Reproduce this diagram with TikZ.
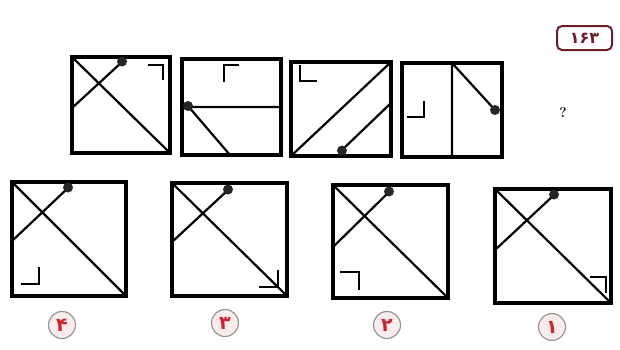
\documentclass[tikz,border=0pt]{standalone}
\usepackage{fontspec}
\newfontfamily\arabicfont[Script=Arabic]{DejaVu Sans}
\definecolor{optred}{RGB}{205,35,45}
\definecolor{tagred}{RGB}{105,30,40}
\definecolor{ringgray}{RGB}{150,150,150}
\definecolor{ringfill}{RGB}{250,236,236}
\tikzset{
  frame/.style={line width=3.3pt},
  seg/.style={line width=2.2pt},
  cornermark/.style={line width=2.2pt},
  ball/.style={fill=black!85},
  optlabel/.style={circle,draw=ringgray,line width=1.2pt,fill=ringfill,minimum size=27pt,inner sep=0pt,text=optred,font=\arabicfont\bfseries\fontsize{19}{19}\selectfont},
}
\begin{document}
\begin{tikzpicture}[x=1pt,y=-1pt]
		\useasboundingbox (0,0) rectangle (620,349);
		% question row
		\draw[frame] (72,57) rectangle (170,153);
		\draw[seg] (72,57)--(169,152) (122,62)--(72,108);
		\draw[cornermark] (148,65)--(163,65)--(163,80);
		\fill[ball] (122,61.5) circle(5);
		\draw[frame] (182,59) rectangle (281,155);
		\draw[seg] (182,107)--(281,107) (188,106)--(230,155);
		\draw[cornermark] (224,82)--(224,65)--(239,65);
		\fill[ball] (188,106) circle(5);
		\draw[frame] (291,62) rectangle (391,156);
		\draw[seg] (291,156)--(391,62) (342,150)--(391,103);
		\draw[cornermark] (300,65)--(300,81)--(317,81);
		\fill[ball] (342,150.5) circle(5);
		\draw[frame] (402,63) rectangle (502,157);
		\draw[seg] (452,63)--(452,157) (452,63)--(495,110);
		\draw[cornermark] (407,117)--(424,117)--(424,101);
		\fill[ball] (495,110) circle(5);
		\node[font=\bfseries\fontsize{14}{14}\selectfont] (ask) at (563,113) {?};
		\node[draw=tagred,line width=2pt,rounded corners=5pt,minimum width=55pt,minimum height=24pt,inner sep=0pt,text=tagred,font=\arabicfont\bfseries\fontsize{16}{16}\selectfont] (tag) at (584.5,38) {۱۶۳};
		% answer row
		\draw[frame] (12,182) rectangle (126,296);
		\draw[seg] (12,182)--(126,296) (68,188)--(12,241);
		\draw[cornermark] (21,284)--(39,284)--(39,267);
		\fill[ball] (68,187.5) circle(5);
		\node[optlabel] (opt4) at (62,325) {۴};
		\draw[frame] (172,183) rectangle (287,296);
		\draw[seg] (172,183)--(287,296) (228,190)--(172,242);
		\draw[cornermark] (259,287)--(278,287)--(278,270);
		\fill[ball] (228,189.5) circle(5);
		\node[optlabel] (opt3) at (225,323) {۳};
		\draw[frame] (333,185) rectangle (448,298);
		\draw[seg] (333,185)--(448,298) (389,192)--(333,247);
		\draw[cornermark] (340,272)--(359,272)--(359,290);
		\fill[ball] (389,191.5) circle(5);
		\node[optlabel] (opt2) at (387,325) {۲};
		\draw[frame] (495,189) rectangle (611,303);
		\draw[seg] (495,189)--(611,303) (554,195)--(495,250);
		\draw[cornermark] (590,277)--(606,277)--(606,293);
		\fill[ball] (554,194.5) circle(5);
		\node[optlabel] (opt1) at (552,327) {۱};
\end{tikzpicture}
\end{document}
